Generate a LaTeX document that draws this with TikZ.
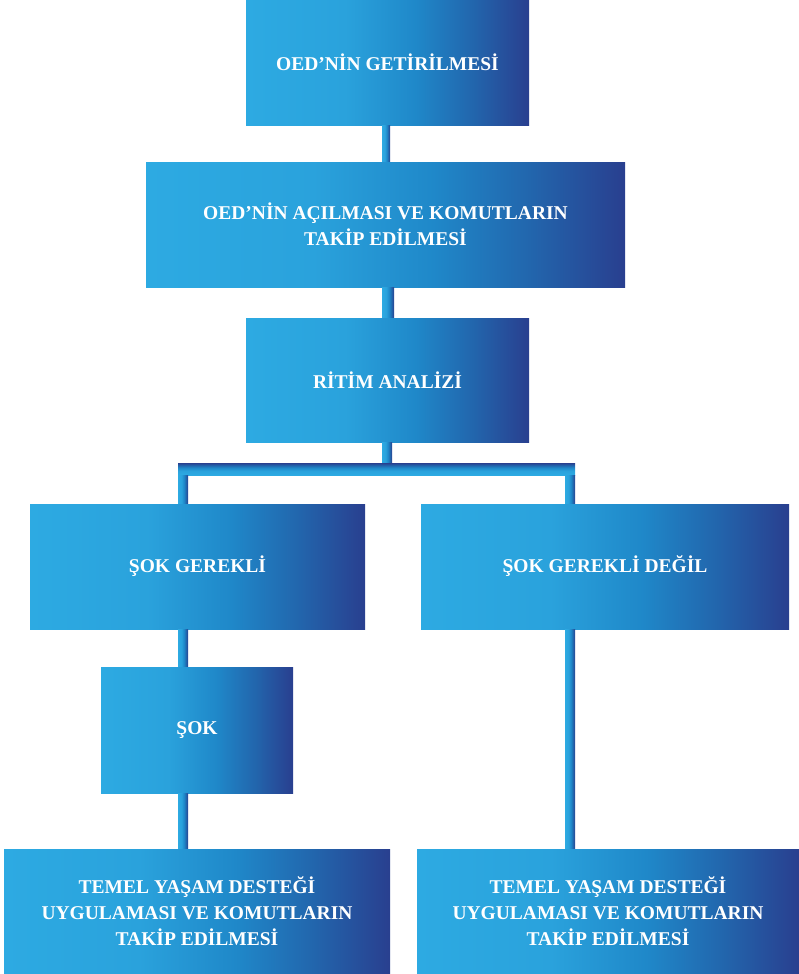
\documentclass[tikz,border=0pt]{standalone}
\usepackage{fontspec}
\setmainfont{Liberation Serif}
\usepackage{xcolor}
\usepackage{tikz}
\usetikzlibrary{calc}
\usetikzlibrary{positioning}
\definecolor{acikmavi}{HTML}{2DAAE2}
\definecolor{mavi1}{HTML}{2AA2DC}
\definecolor{mavi2}{HTML}{1F88C9}
\definecolor{mavi3}{HTML}{2266AD}
\definecolor{lacivert}{HTML}{293F8F}
\pgfdeclarehorizontalshading{boxshade}{100bp}{color(0bp)=(acikmavi); color(25bp)=(acikmavi); color(42.5bp)=(mavi1); color(55bp)=(mavi2); color(65bp)=(mavi3); color(75bp)=(lacivert); color(100bp)=(lacivert)}
\tikzset{
    kutu/.style = {rectangle, shading=boxshade, text=white, inner sep=0pt, align=center,
                   font=\bfseries\fontsize{19.5}{26}\selectfont},
    bag/.style = {shading=boxshade}
}

\begin{document}
\begin{tikzpicture}[x=1pt,y=-1pt]
                \useasboundingbox (0,0) rectangle (799,974);
                \node[kutu, minimum width=283pt, minimum height=125pt] (getir) at (387.5,62.5) {OED’NİN GETİRİLMESİ};
                \node[kutu, minimum width=479pt, minimum height=125pt] (acil) at (385.5,224.5) {OED’NİN AÇILMASI VE KOMUTLARIN\\TAKİP EDİLMESİ};
                \node[kutu, minimum width=283pt, minimum height=124pt] (ritim) at (387.5,380) {RİTİM ANALİZİ};
                \node[kutu, minimum width=335pt, minimum height=125pt] (gerekli) at (197.5,566.5) {ŞOK GEREKLİ};
                \node[kutu, minimum width=368pt, minimum height=125pt] (degil) at (605,566.5) {ŞOK GEREKLİ DEĞİL};
                \node[kutu, minimum width=192pt, minimum height=126pt] (sok) at (197,730) {ŞOK};
                \node[kutu, minimum width=386pt, minimum height=125pt] (tyd1) at (197,911.5) {TEMEL YAŞAM DESTEĞİ\\UYGULAMASI VE KOMUTLARIN\\TAKİP EDİLMESİ};
                \node[kutu, minimum width=382pt, minimum height=125pt] (tyd2) at (608,911.5) {TEMEL YAŞAM DESTEĞİ\\UYGULAMASI VE KOMUTLARIN\\TAKİP EDİLMESİ};
                \coordinate (solkol) at (183,469);
                \coordinate (sagkol) at (570,469);
                \fill[bag] ($(getir.south)+(-5.5,0)$) rectangle ($(acil.north)+(4.5,0)$);
                \fill[bag] ($(acil.south)+(-3.5,0)$) rectangle ($(ritim.north)+(6.5,0)$);
                \fill[bag] ($(ritim.south)+(-5.5,0)$) rectangle ($(ritim.south |- solkol)+(4.5,0)$);
                \fill[bag, shading angle=90] ($(solkol)+(-5,-6)$) rectangle ($(sagkol)+(5,6)$);
                \fill[bag] ($(solkol)+(-5,6)$) rectangle ($(solkol |- gerekli.north)+(5,0)$);
                \fill[bag] ($(sagkol)+(-5,6)$) rectangle ($(sagkol |- degil.north)+(5,0)$);
                \fill[bag] ($(solkol |- gerekli.south)+(-5,0)$) rectangle ($(solkol |- sok.north)+(5,0)$);
                \fill[bag] ($(solkol |- sok.south)+(-5,0)$) rectangle ($(solkol |- tyd1.north)+(5,0)$);
                \fill[bag] ($(sagkol |- degil.south)+(-5,0)$) rectangle ($(sagkol |- tyd2.north)+(5,0)$);
            \end{tikzpicture}
\end{document}
